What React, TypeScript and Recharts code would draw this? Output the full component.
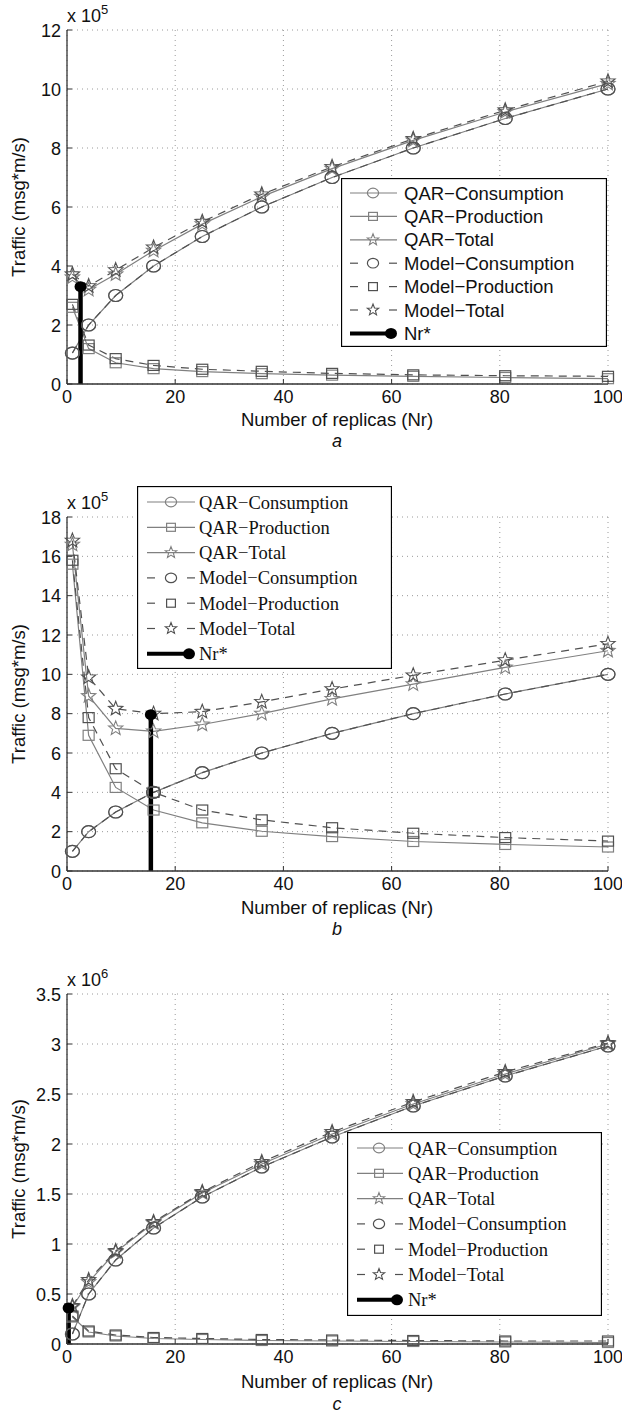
import React from "react";
import { CartesianGrid, Legend, Line, LineChart, XAxis, YAxis } from "recharts";

// Number of replicas sampled in all three panels
const replicas = [1, 4, 9, 16, 25, 36, 49, 64, 81, 100];
const xTicks = [0, 20, 40, 60, 80, 100];

// Panel a (x 10^5)
const aQarConsumption = [1.05, 2.0, 3.0, 4.0, 5.0, 6.0, 7.0, 8.0, 9.0, 10.0];
const aQarProduction = [2.6, 1.2, 0.72, 0.52, 0.42, 0.35, 0.3, 0.26, 0.22, 0.18];
const aQarTotal = [3.62, 3.2, 3.72, 4.52, 5.42, 6.35, 7.3, 8.26, 9.22, 10.18];
const aModelConsumption = [1.05, 2.0, 3.0, 4.0, 5.0, 6.0, 7.0, 8.0, 9.0, 10.0];
const aModelProduction = [2.7, 1.32, 0.86, 0.63, 0.5, 0.43, 0.36, 0.31, 0.28, 0.26];
const aModelTotal = [3.72, 3.32, 3.86, 4.63, 5.5, 6.43, 7.36, 8.31, 9.28, 10.26];
const aYTicks = [0, 2, 4, 6, 8, 10, 12];
const aNrStar = { nr: 2.5, value: 3.3 };

// Panel b (x 10^5)
const bQarConsumption = [1.0, 2.0, 3.0, 4.0, 5.0, 6.0, 7.0, 8.0, 9.0, 10.0];
const bQarProduction = [15.6, 6.9, 4.25, 3.1, 2.45, 2.02, 1.75, 1.5, 1.35, 1.22];
const bQarTotal = [16.6, 8.9, 7.25, 7.1, 7.45, 8.0, 8.75, 9.5, 10.35, 11.2];
const bModelConsumption = [1.0, 2.0, 3.0, 4.0, 5.0, 6.0, 7.0, 8.0, 9.0, 10.0];
const bModelProduction = [15.8, 7.8, 5.2, 4.0, 3.1, 2.6, 2.2, 1.92, 1.7, 1.52];
const bModelTotal = [16.8, 9.85, 8.25, 8.0, 8.1, 8.6, 9.25, 9.95, 10.72, 11.55];
const bYTicks = [0, 2, 4, 6, 8, 10, 12, 14, 16, 18];
const bNrStar = { nr: 15.5, value: 7.95 };

// Panel c (x 10^6)
const cQarConsumption = [0.1, 0.5, 0.84, 1.16, 1.47, 1.77, 2.07, 2.38, 2.68, 2.98];
const cQarProduction = [0.27, 0.12, 0.08, 0.055, 0.045, 0.035, 0.03, 0.025, 0.02, 0.015];
const cQarTotal = [0.37, 0.62, 0.92, 1.21, 1.51, 1.8, 2.1, 2.4, 2.7, 3.0];
const cModelConsumption = [0.1, 0.5, 0.84, 1.16, 1.47, 1.77, 2.07, 2.38, 2.68, 2.98];
const cModelProduction = [0.28, 0.13, 0.09, 0.065, 0.055, 0.045, 0.04, 0.035, 0.03, 0.03];
const cModelTotal = [0.38, 0.64, 0.93, 1.22, 1.52, 1.82, 2.12, 2.42, 2.72, 3.01];
const cYTicks = [0, 0.5, 1, 1.5, 2, 2.5, 3, 3.5];
const cNrStar = { nr: 0.3, value: 0.36 };

const SANS = "'Liberation Sans', Arial, Helvetica, sans-serif";
const SERIF = "'Liberation Serif', 'Times New Roman', serif";
const QAR_GREY = "#808080";
const MODEL_GREY = "#505050";

type Shape = "circle" | "square" | "star";

const seriesStyle: { key: string; name: string; shape: Shape; color: string; dashed: boolean }[] = [
  { key: "qarC", name: "QAR\u2212Consumption", shape: "circle", color: QAR_GREY, dashed: false },
  { key: "qarP", name: "QAR\u2212Production", shape: "square", color: QAR_GREY, dashed: false },
  { key: "qarT", name: "QAR\u2212Total", shape: "star", color: QAR_GREY, dashed: false },
  { key: "modC", name: "Model\u2212Consumption", shape: "circle", color: MODEL_GREY, dashed: true },
  { key: "modP", name: "Model\u2212Production", shape: "square", color: MODEL_GREY, dashed: true },
  { key: "modT", name: "Model\u2212Total", shape: "star", color: MODEL_GREY, dashed: true },
];

function buildRows(qc: number[], qp: number[], qt: number[], mc: number[], mp: number[], mt: number[]) {
  return replicas.map((nr, i) => ({
    nr,
    qarC: qc[i],
    qarP: qp[i],
    qarT: qt[i],
    modC: mc[i],
    modP: mp[i],
    modT: mt[i],
  }));
}

function starPath(cx: number, cy: number, R: number, r: number) {
  let d = "";
  for (let k = 0; k < 10; k++) {
    const rad = k % 2 === 0 ? R : r;
    const a = -Math.PI / 2 + (k * Math.PI) / 5;
    d += (k === 0 ? "M" : "L") + (cx + rad * Math.cos(a)).toFixed(2) + "," + (cy + rad * Math.sin(a)).toFixed(2);
  }
  return d + "Z";
}

function MarkerShape({ shape, cx, cy, color, scale = 1 }: { shape: Shape; cx: number; cy: number; color: string; scale?: number }) {
  if (shape === "circle") {
    return <ellipse cx={cx} cy={cy} rx={7 * scale} ry={6 * scale} fill="none" stroke={color} strokeWidth={1.2} />;
  }
  if (shape === "square") {
    return (
      <rect x={cx - 5.5 * scale} y={cy - 5 * scale} width={11 * scale} height={10 * scale} fill="none" stroke={color} strokeWidth={1.2} />
    );
  }
  return <path d={starPath(cx, cy, 7.5 * scale, 3.2 * scale)} fill="none" stroke={color} strokeWidth={1.1} />;
}

const makeDot = (shape: Shape, color: string) => (props: any) => {
  const { cx, cy, index } = props;
  if (cx == null || cy == null) return <g key={`e-${index}`} />;
  return (
    <g key={`${shape}-${index}`}>
      <MarkerShape shape={shape} cx={cx} cy={cy} color={color} />
    </g>
  );
};

const nrStarDot = (props: any) => {
  const { cx, cy, index } = props;
  if (index !== 1 || cx == null) return <g key={`n-${index}`} />;
  return <ellipse key={`n-${index}`} cx={cx} cy={cy} rx={6} ry={5.5} fill="#000" />;
};

const XTick = (props: any) => {
  const { x, y, payload } = props;
  return (
    <g>
      <line x1={x} x2={x} y1={y} y2={y - 5} stroke="#333" />
      <text x={x} y={y + 19} textAnchor="middle" fontFamily={SANS} fontSize={18} fill="#111">
        {payload.value}
      </text>
    </g>
  );
};

const YTick = (props: any) => {
  const { x, y, payload } = props;
  return (
    <g>
      <line x1={x} x2={x + 5} y1={y} y2={y} stroke="#333" />
      <text x={x - 6} y={y + 6.5} textAnchor="end" fontFamily={SANS} fontSize={18} fill="#111">
        {payload.value}
      </text>
    </g>
  );
};

interface LegendCfg {
  left: number;
  top: number;
  width: number;
  height: number;
  firstRow: number;
  rowGap: number;
  sampleX0: number;
  sampleX1: number;
  markerX: number;
  textX: number;
  serif: boolean;
  fontSize: number;
}

function LegendBox({ cfg }: { cfg: LegendCfg }) {
  const font = cfg.serif ? SERIF : SANS;
  return (
    <svg width={cfg.width} height={cfg.height} style={{ display: "block" }}>
      <rect x={0.5} y={0.5} width={cfg.width - 1} height={cfg.height - 1} fill="#fff" stroke="#000" strokeWidth={1.3} />
      {seriesStyle.map((s, i) => {
        const y = cfg.firstRow + i * cfg.rowGap;
        return (
          <g key={s.key}>
            {s.dashed ? (
              <>
                <line x1={cfg.sampleX0} x2={cfg.sampleX0 + 8} y1={y} y2={y} stroke={s.color} strokeWidth={1.2} />
                <line x1={cfg.sampleX1 - 8} x2={cfg.sampleX1} y1={y} y2={y} stroke={s.color} strokeWidth={1.2} />
              </>
            ) : (
              <line x1={cfg.sampleX0} x2={cfg.sampleX1} y1={y} y2={y} stroke={s.color} strokeWidth={1.2} />
            )}
            <MarkerShape shape={s.shape} cx={cfg.markerX} cy={y} color={s.color} scale={0.8} />
            <text x={cfg.textX} y={y + 6.5} fontFamily={font} fontSize={cfg.fontSize} fill="#111">
              {s.name}
            </text>
          </g>
        );
      })}
      {(() => {
        const y = cfg.firstRow + 6 * cfg.rowGap;
        return (
          <g>
            <line x1={cfg.sampleX0} x2={cfg.sampleX1 - 6} y1={y} y2={y} stroke="#000" strokeWidth={4} />
            <ellipse cx={cfg.sampleX1 - 6} cy={y} rx={6} ry={5.5} fill="#000" />
            <text x={cfg.textX} y={y + 6.5} fontFamily={font} fontSize={cfg.fontSize} fill="#111">
              Nr*
            </text>
          </g>
        );
      })()}
    </svg>
  );
}

interface PanelProps {
  chartTop: number;
  marginTop: number;
  plotHeight: number;
  rows: ReturnType<typeof buildRows>;
  yTicks: number[];
  exponent: string;
  nrStar: { nr: number; value: number };
  legend: LegendCfg;
  caption: string;
  labelOffset: number;
  captionOffset: number;
}

function Panel(p: PanelProps) {
  const chartHeight = p.marginTop + p.plotHeight + 36;
  const plotBottom = p.marginTop + p.plotHeight;
  const nrRows = [
    { nr: p.nrStar.nr, value: 0 },
    { nr: p.nrStar.nr, value: p.nrStar.value },
  ];
  const yMax = p.yTicks[p.yTicks.length - 1];
  return (
    <div style={{ position: "absolute", left: 0, top: p.chartTop, width: 622, height: chartHeight + 70 }}>
      <LineChart width={622} height={chartHeight} data={p.rows} margin={{ top: p.marginTop, right: 14, left: 17, bottom: 6 }}>
        <CartesianGrid stroke="#9a9a9a" strokeDasharray="1 4" />
        <XAxis
          dataKey="nr"
          type="number"
          domain={[0, 100]}
          ticks={xTicks}
          height={30}
          tickSize={0}
          tickMargin={0}
          tickLine={false}
          tick={XTick}
          axisLine={{ stroke: "#333", strokeWidth: 1.3 }}
          interval={0}
        />
        <YAxis
          type="number"
          domain={[0, yMax]}
          ticks={p.yTicks}
          width={50}
          tickSize={0}
          tickMargin={0}
          tickLine={false}
          tick={YTick}
          axisLine={{ stroke: "#333", strokeWidth: 1.3 }}
          interval={0}
        />
        {seriesStyle.map((s) => (
          <Line
            key={s.key}
            dataKey={s.key}
            name={s.name}
            stroke={s.color}
            strokeWidth={1.2}
            strokeDasharray={s.dashed ? "8 6" : undefined}
            dot={makeDot(s.shape, s.color)}
            activeDot={false}
            isAnimationActive={false}
          />
        ))}
        <Line
          data={nrRows}
          dataKey="value"
          name="Nr*"
          stroke="#000"
          strokeWidth={4.5}
          dot={nrStarDot}
          activeDot={false}
          isAnimationActive={false}
        />
        <Legend
          layout="vertical"
          align="center"
          verticalAlign="middle"
          wrapperStyle={{ left: p.legend.left, top: p.legend.top, width: p.legend.width, height: p.legend.height }}
          content={() => <LegendBox cfg={p.legend} />}
        />
      </LineChart>
      <div
        style={{
          position: "absolute",
          left: 67,
          top: p.marginTop - 24,
          fontFamily: SANS,
          fontSize: 18,
          lineHeight: "20px",
          color: "#111",
          whiteSpace: "nowrap",
        }}
      >
        x 10<span style={{ fontSize: 13, position: "relative", top: -8 }}>{p.exponent}</span>
      </div>
      <div
        style={{
          position: "absolute",
          left: 19,
          top: p.marginTop + p.plotHeight / 2,
          transform: "translate(-50%, -50%) rotate(-90deg)",
          fontFamily: SANS,
          fontSize: 18.5,
          lineHeight: "18px",
          color: "#111",
          whiteSpace: "nowrap",
        }}
      >
        Traffic (msg*m/s)
      </div>
      <div
        style={{
          position: "absolute",
          left: 337,
          top: plotBottom + p.labelOffset,
          transform: "translate(-50%, -50%)",
          fontFamily: SANS,
          fontSize: 18.5,
          lineHeight: "16px",
          color: "#111",
          whiteSpace: "nowrap",
        }}
      >
        Number of replicas (Nr)
      </div>
      <div
        style={{
          position: "absolute",
          left: 337,
          top: plotBottom + p.captionOffset,
          transform: "translate(-50%, -50%)",
          fontFamily: SANS,
          fontStyle: "italic",
          fontSize: 18,
          lineHeight: "16px",
          color: "#111",
        }}
      >
        {p.caption}
      </div>
    </div>
  );
}

const legendA: LegendCfg = {
  left: 341, top: 178, width: 266, height: 169, firstRow: 15, rowGap: 23.4,
  sampleX0: 9, sampleX1: 56, markerX: 32, textX: 63, serif: false, fontSize: 18.5,
};
const legendB: LegendCfg = {
  left: 137, top: 16, width: 255, height: 183, firstRow: 16, rowGap: 25.3,
  sampleX0: 10, sampleX1: 58, markerX: 34, textX: 62, serif: true, fontSize: 18.5,
};
const legendC: LegendCfg = {
  left: 347, top: 182, width: 255, height: 184, firstRow: 16, rowGap: 25.3,
  sampleX0: 10, sampleX1: 56, markerX: 32, textX: 61, serif: true, fontSize: 18.5,
};

export default function App() {
  return (
    <div style={{ position: "absolute", left: 0, top: 0, width: 622, height: 1413, background: "#fff", overflow: "hidden" }}>
      <Panel
        chartTop={0}
        marginTop={30}
        plotHeight={354}
        rows={buildRows(aQarConsumption, aQarProduction, aQarTotal, aModelConsumption, aModelProduction, aModelTotal)}
        yTicks={aYTicks}
        exponent="5"
        nrStar={aNrStar}
        legend={legendA}
        caption="a"
        labelOffset={36}
        captionOffset={57}
      />
      <Panel
        chartTop={470}
        marginTop={47}
        plotHeight={354}
        rows={buildRows(bQarConsumption, bQarProduction, bQarTotal, bModelConsumption, bModelProduction, bModelTotal)}
        yTicks={bYTicks}
        exponent="5"
        nrStar={bNrStar}
        legend={legendB}
        caption="b"
        labelOffset={37}
        captionOffset={58}
      />
      <Panel
        chartTop={950}
        marginTop={44}
        plotHeight={350}
        rows={buildRows(cQarConsumption, cQarProduction, cQarTotal, cModelConsumption, cModelProduction, cModelTotal)}
        yTicks={cYTicks}
        exponent="6"
        nrStar={cNrStar}
        legend={legendC}
        caption="c"
        labelOffset={38}
        captionOffset={60}
      />
    </div>
  );
}
